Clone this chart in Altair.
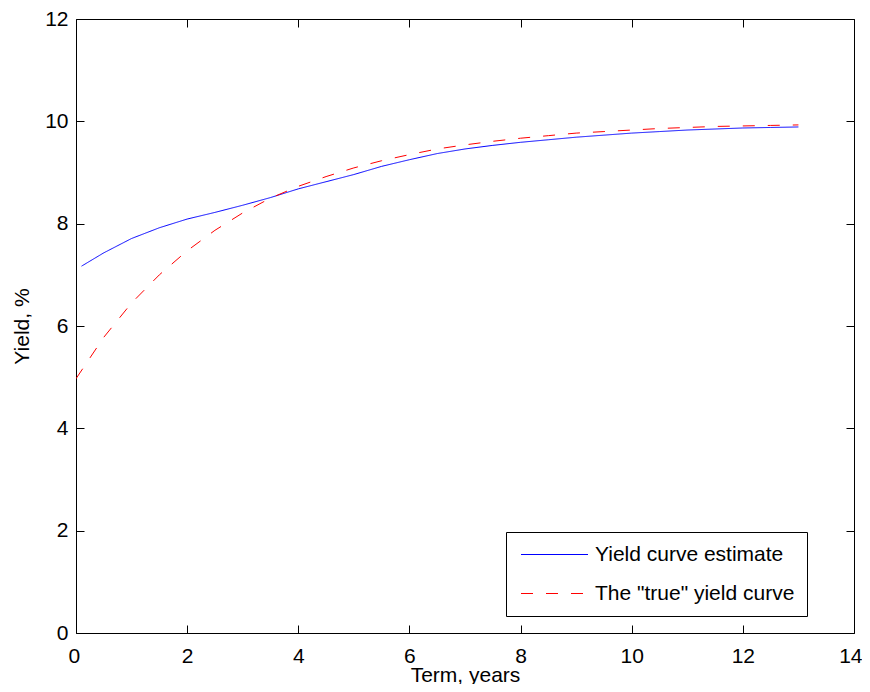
import altair as alt
import pandas as pd

# Yield curve estimate (blue, solid)
est_term = [0.1, 0.5, 1.0, 1.5, 2.0, 2.5, 3.0, 3.5, 4.0, 4.5, 5.0, 5.5, 6.0, 6.5,
            7.0, 7.5, 8.0, 8.5, 9.0, 9.5, 10.0, 10.5, 11.0, 11.5, 12.0, 12.5, 13.0]
est_yield = [7.17, 7.43, 7.71, 7.92, 8.09, 8.22, 8.36, 8.51, 8.68, 8.82, 8.96, 9.12, 9.25, 9.37,
             9.46, 9.53, 9.59, 9.64, 9.69, 9.73, 9.77, 9.80, 9.83, 9.85, 9.87, 9.88, 9.89]

# The "true" yield curve (red, dashed)
true_term = [0.0, 0.5, 1.0, 1.5, 2.0, 2.5, 3.0, 3.5, 4.0, 4.5, 5.0, 5.5, 6.0, 6.5,
             7.0, 7.5, 8.0, 8.5, 9.0, 9.5, 10.0, 10.5, 11.0, 11.5, 12.0, 12.5, 13.0]
true_yield = [4.97, 5.78, 6.45, 7.00, 7.47, 7.87, 8.21, 8.50, 8.73, 8.92, 9.09, 9.23, 9.35, 9.46,
              9.54, 9.61, 9.67, 9.72, 9.77, 9.80, 9.83, 9.86, 9.88, 9.90, 9.91, 9.92, 9.93]

series_names = ["Yield curve estimate", 'The "true" yield curve']
series_colors = ["#0000ff", "#ff0000"]
series_dashes = [[1, 0], [12, 13]]
x_ticks = [0, 2, 4, 6, 8, 10, 12, 14]
y_ticks = [0, 2, 4, 6, 8, 10, 12]

df = pd.concat([
    pd.DataFrame({"term": est_term, "yield": est_yield, "series": series_names[0], "order": range(len(est_term))}),
    pd.DataFrame({"term": true_term, "yield": true_yield, "series": series_names[1], "order": range(len(true_term))}),
], ignore_index=True)

FONT = "Liberation Sans"
FS = 21

x_scale = alt.Scale(domain=[0, 14], nice=False, zero=False)
y_scale = alt.Scale(domain=[0, 12], nice=False, zero=False)

legend_props = dict(
    title=None, orient="none", legendX=430, legendY=513,
    direction="vertical", padding=12, strokeColor="black",
    fillColor="white", labelFont=FONT, labelFontSize=FS,
    labelColor="black", labelOffset=56, rowPadding=17, labelLimit=500,
    symbolType="M-0.75,0H5.95", symbolSize=400,
    symbolStrokeWidth=1, cornerRadius=0,
)

lines = alt.Chart(df).mark_line(strokeWidth=1, clip=True).encode(
    x=alt.X("term:Q", scale=x_scale,
            axis=alt.Axis(orient="bottom", values=x_ticks, offset=-8, tickSize=8, domain=False,
                          grid=False, labelPadding=12, title="Term, years", titlePadding=-2,
                          labelFlush=True, labelFlushOffset=8, labelOverlap=False)),
    y=alt.Y("yield:Q", scale=y_scale,
            axis=alt.Axis(orient="left", values=y_ticks, offset=-8, tickSize=8, domain=False,
                          grid=False, labelPadding=8, title="Yield, %", titlePadding=12,
                          labelFlush=False, labelOverlap=False)),
    color=alt.Color("series:N", scale=alt.Scale(domain=series_names, range=series_colors),
                    legend=alt.Legend(**legend_props)),
    strokeDash=alt.StrokeDash("series:N", scale=alt.Scale(domain=series_names, range=series_dashes),
                              legend=alt.Legend(**legend_props)),
    order="order:Q",
)

frame = alt.Chart(df).mark_line(opacity=0).encode(
    x=alt.X("term:Q", scale=x_scale,
            axis=alt.Axis(orient="top", values=x_ticks, offset=-8, tickSize=8, domain=False,
                          grid=False, labels=False, title=None)),
    y=alt.Y("yield:Q", scale=y_scale,
            axis=alt.Axis(orient="right", values=y_ticks, offset=-8, tickSize=8, domain=False,
                          grid=False, labels=False, title=None)),
    detail="series:N",
)

chart = alt.layer(lines, frame).resolve_axis(x="independent", y="independent").properties(
    width=778, height=614,
    background="white",
    autosize=alt.AutoSizeParams(type="none"),
    padding={"left": 68, "top": 11, "right": 8, "bottom": 51},
).configure_view(stroke="black", strokeWidth=1).configure_axis(
    labelFont=FONT, labelFontSize=FS, labelColor="black", titleFont=FONT, titleFontSize=FS,
    titleFontWeight="normal", titleColor="black", tickColor="black", tickWidth=1,
)

chart.save("out.html", embed_options={"renderer": "svg", "actions": False})
